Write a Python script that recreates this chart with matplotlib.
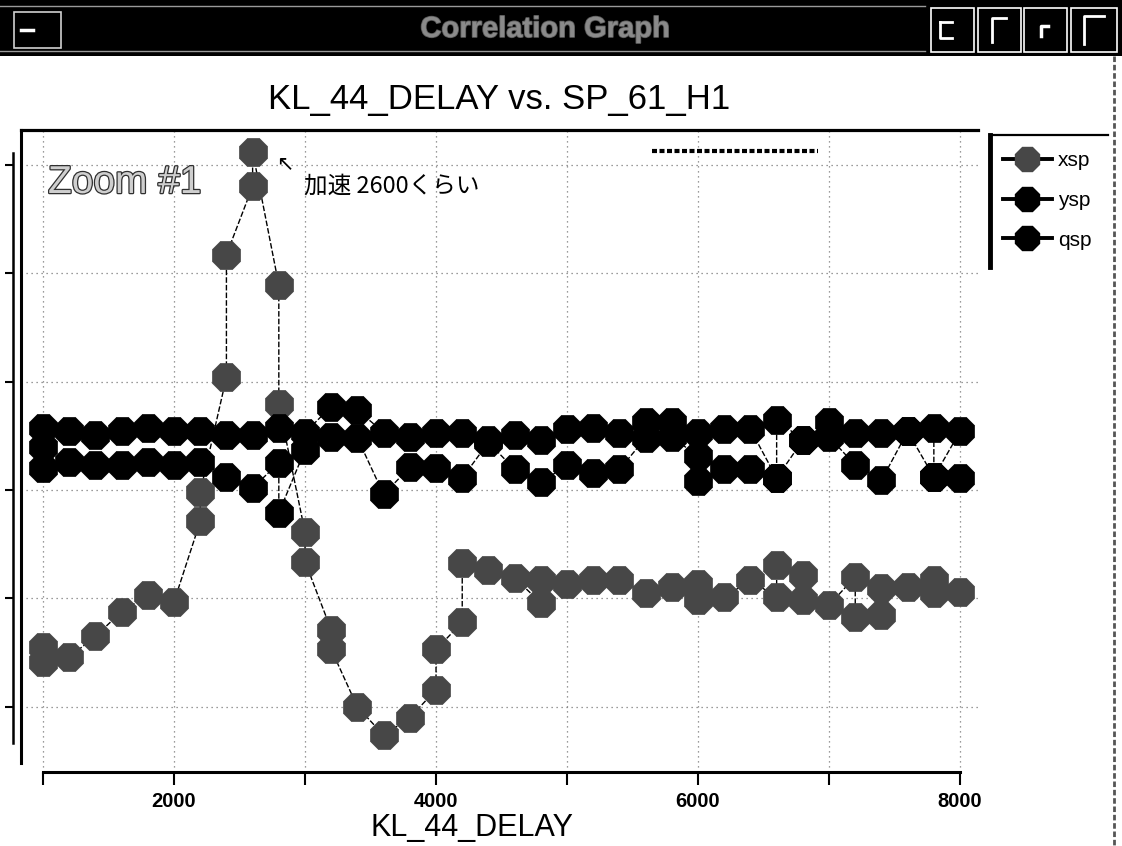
import matplotlib
matplotlib.use("Agg")
import matplotlib.pyplot as plt
from matplotlib.lines import Line2D
from matplotlib.patches import Rectangle
import matplotlib.patheffects as pe

# ---- data -------------------------------------------------------------
xsp_x = [1000, 1000, 1200, 1400, 1600, 1800, 2000, 2200, 2200, 2400, 2400,
         2600, 2600, 2800, 2800, 3000, 3000, 3200, 3200, 3400, 3600, 3800,
         4000, 4000, 4200, 4200, 4400, 4600, 4800, 4800, 5000, 5200, 5400,
         5600, 5800, 6000, 6000, 6200, 6400, 6600, 6600, 6800, 6800, 7000,
         7200, 7200, 7400, 7400, 7600, 7800, 7800, 8000]
xsp_y = [0.41, 0.55, 0.46, 0.65, 0.88, 1.03, 0.97, 1.71, 1.98, 3.04, 4.17,
         4.80, 5.12, 3.89, 2.79, 1.61, 1.34, 0.71, 0.53, 0.00, -0.26, -0.10,
         0.16, 0.53, 0.78, 1.33, 1.26, 1.19, 0.96, 1.17, 1.13, 1.17, 1.17,
         1.05, 1.11, 1.13, 0.99, 1.01, 1.17, 1.01, 1.31, 1.22, 0.99, 0.94,
         1.20, 0.83, 0.85, 1.10, 1.11, 1.17, 1.05, 1.06]

ysp_x = [1000, 1200, 1400, 1600, 1800, 2000, 2200, 2400, 2600, 2800,
         3000, 3200, 3400, 3600, 3800, 4000, 4200, 4400, 4600, 4800,
         5000, 5200, 5400, 5600, 5800, 6000, 6200, 6400, 6600, 6600,
         6800, 7000, 7200, 7400, 7600, 7800, 7800, 8000]
ysp_y = [2.57, 2.54, 2.51, 2.54, 2.57, 2.54, 2.54, 2.51, 2.51, 2.57,
         2.53, 2.77, 2.74, 2.53, 2.49, 2.53, 2.53, 2.46, 2.51, 2.46,
         2.56, 2.57, 2.53, 2.63, 2.63, 2.53, 2.56, 2.56, 2.11, 2.65,
         2.46, 2.63, 2.53, 2.53, 2.54, 2.57, 2.12, 2.54]

qsp_x = [1000, 1000, 1200, 1400, 1600, 1800, 2000, 2200, 2400, 2600,
         2800, 2800, 3000, 3200, 3400, 3600, 3800, 4000, 4200, 4400,
         4600, 4800, 5000, 5200, 5400, 5600, 5800, 6000, 6000, 6200,
         6400, 6600, 6800, 7000, 7200, 7400, 7600, 7800, 8000]
qsp_y = [2.40, 2.20, 2.26, 2.23, 2.23, 2.26, 2.23, 2.26, 2.12, 2.02,
         2.25, 1.79, 2.37, 2.49, 2.48, 1.96, 2.21, 2.20, 2.11, 2.44,
         2.19, 2.07, 2.23, 2.16, 2.19, 2.48, 2.49, 2.31, 2.08, 2.19,
         2.19, 2.11, 2.46, 2.49, 2.23, 2.09, 2.54, 2.12, 2.11]

series_names = ["xsp", "ysp", "qsp"]
x_ticks = [1000, 2000, 3000, 4000, 5000, 6000, 7000, 8000]
x_tick_labels = ["", "2000", "", "4000", "", "6000", "", "8000"]
y_ticks = [0, 1, 2, 3, 4, 5]

title = "KL_44_DELAY vs. SP_61_H1"
x_label = "KL_44_DELAY"
window_title = "Correlation Graph"
zoom_tag = "Zoom #1"
note = "加速 2600くらい"

XSP_COLOR = "#474747"

# ---- figure / helpers -------------------------------------------------
W, H = 1122, 846
fig = plt.figure(figsize=(W / 100, H / 100), dpi=100)
fig.patch.set_facecolor("white")


def fx(x):
    return x / W


def fy(y):
    return 1 - y / H


def fig_line(xs, ys, **kw):
    fig.add_artist(Line2D([fx(v) for v in xs], [fy(v) for v in ys],
                          transform=fig.transFigure, **kw))


# ---- window chrome ----------------------------------------------------
fig.add_artist(Rectangle((0, fy(56)), 1, 56 / H, transform=fig.transFigure,
                         facecolor="black", edgecolor="none"))
fig_line([0, 925], [6, 6], color="#9a9a9a", lw=1)
fig_line([0, 925], [51, 51], color="#9a9a9a", lw=1)
fig.add_artist(Rectangle((fx(14), fy(48)), 47 / W, 36 / H,
                         transform=fig.transFigure, fill=False,
                         edgecolor="#d0d0d0", lw=1.2))
fig_line([21, 33], [30, 30], color="white", lw=2.5)
fig.text(fx(545), fy(29), window_title, color="#8a8a8a", fontsize=21,
         fontweight="bold", ha="center", va="center", family="Liberation Sans",
         path_effects=[pe.withStroke(linewidth=1.2, foreground="#5a5a5a")])
for (bx0, bx1) in [(931, 974), (978, 1021), (1024, 1067), (1071, 1117)]:
    fig.add_artist(Rectangle((fx(bx0), fy(52)), (bx1 - bx0) / W, 44 / H,
                             transform=fig.transFigure, fill=False,
                             edgecolor="white", lw=1.2))
fig_line([940, 940, 952], [22, 38, 38], color="white", lw=2)
fig_line([940, 952], [22, 22], color="white", lw=2)
fig_line([992, 992, 1006], [42, 18, 18], color="white", lw=2)
fig_line([1041, 1041, 1048], [36, 26, 26], color="white", lw=2.5)
fig_line([1084, 1084, 1104], [44, 16, 16], color="white", lw=2)
fig_line([1114, 1114], [56, 846], color="#555555", lw=2, ls=(0, (2, 1)))

# ---- axes -------------------------------------------------------------
L, R, T, B = 21, 978, 130, 772
ax = fig.add_axes([fx(L), fy(B), (R - L) / W, (B - T) / H])
ax.set_facecolor("white")
ax.set_xlim(832, 8137)
ax.set_ylim(-0.60, 5.32)

ax.grid(True, ls=(0, (1, 3)), color="#7a7a7a", lw=0.9)
ax.set_axisbelow(True)

ax.spines["right"].set_visible(False)
ax.spines["top"].set_linewidth(2.3)
ax.spines["bottom"].set_linewidth(2.2)
ax.spines["bottom"].set_bounds(1000, 8000)
ax.spines["left"].set_position(("outward", 5.8))
ax.spines["left"].set_linewidth(1.8)
ax.spines["left"].set_bounds(-0.33, 5.11)
# inner frame edge of the plot box
ax.plot([0, 0], [0.014, 1], transform=ax.transAxes, color="black", lw=2.2,
        clip_on=False, zorder=5)

ax.set_xticks(x_ticks)
ax.set_xticklabels(x_tick_labels)
ax.set_yticks(y_ticks)
ax.tick_params(axis="x", direction="out", length=9.4, width=1.5, pad=5,
               labelsize=14.5)
ax.tick_params(axis="y", direction="out", length=5.8, width=1.5,
               labelleft=False)
for lab in ax.get_xticklabels():
    lab.set_fontweight("bold")
    lab.set_family("Liberation Sans")

ax.set_xlabel(x_label, fontsize=22, family="Liberation Sans", va="center")
ax.xaxis.set_label_coords(0.471, -0.087)
ax.set_title(title, fontsize=25, family="Liberation Sans", pad=15)

# ---- series -----------------------------------------------------------
marker_kw = dict(marker="8", ms=22, mew=0.5)
line_kw = dict(color="black", lw=1.0, ls=(0, (4, 1.5)))
ax.plot(xsp_x, xsp_y, mfc=XSP_COLOR, mec=XSP_COLOR, zorder=3,
        clip_on=False, **line_kw, **marker_kw)
ax.plot(ysp_x, ysp_y, mfc="black", mec="black", zorder=4,
        clip_on=False, **line_kw, **marker_kw)
ax.plot(qsp_x, qsp_y, mfc="black", mec="black", zorder=4,
        clip_on=False, **line_kw, **marker_kw)

# ---- legend -----------------------------------------------------------
handles = [
    Line2D([], [], color="black", lw=2.8, marker="8", ms=18,
           mfc=XSP_COLOR, mec=XSP_COLOR),
    Line2D([], [], color="black", lw=2.8, marker="8", ms=18,
           mfc="black", mec="black"),
    Line2D([], [], color="black", lw=2.8, marker="8", ms=18,
           mfc="black", mec="black"),
]
leg = ax.legend(handles, series_names, loc="upper left",
                bbox_to_anchor=(fx(1003), fy(151)),
                bbox_transform=fig.transFigure, frameon=False,
                prop={"family": "Liberation Sans", "size": 15},
                handlelength=2.35, handletextpad=0.3, labelspacing=1.0,
                borderaxespad=0, borderpad=0)
fig_line([990, 1108], [135, 135], color="black", lw=1.6)
fig_line([990, 990], [135, 267], color="black", lw=3.5)

# ---- annotations ------------------------------------------------------
fig_line([652, 818], [151, 151], color="black", lw=3, ls=(0, (1.2, 0.6)))
fig.text(fx(48), fy(183), zoom_tag, fontsize=28, family="Liberation Sans",
         color="#cfcfcf", ha="left", va="center",
         path_effects=[pe.withStroke(linewidth=1.8, foreground="#303030")])
fig.text(fx(285), fy(163), "↖", fontsize=15, family="DejaVu Sans",
         ha="center", va="center")
fig.text(fx(304), fy(186), note, fontsize=17,
         family=["Noto Sans CJK JP", "DejaVu Sans"], ha="left", va="center")

fig.savefig("out.png", dpi=100)
